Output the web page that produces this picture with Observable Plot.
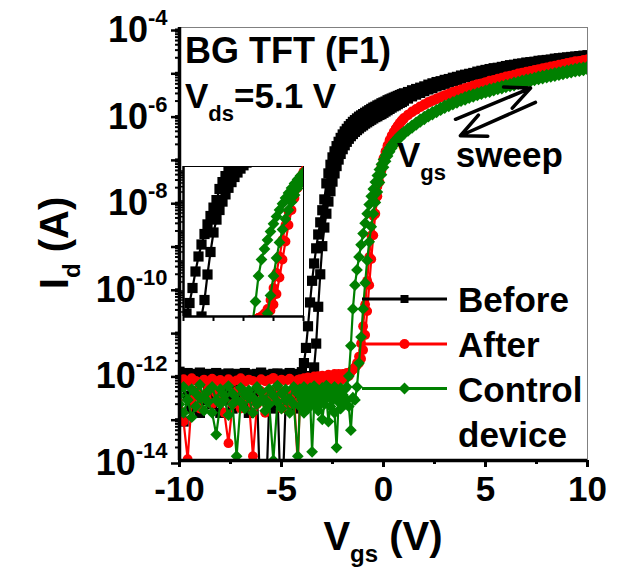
<!DOCTYPE html>
<html>
<head>
<meta charset="utf-8">
<script src="https://cdn.jsdelivr.net/npm/d3@7"></script>
<script src="https://cdn.jsdelivr.net/npm/@observablehq/plot@0.6"></script>
<style>
  html, body { margin: 0; padding: 0; background: #fff; }
  #chart { width: 622px; height: 569px; }
</style>
</head>
<body>
<div id="chart"></div>
<script>
// Gate voltage steps of the transfer sweep (V)
const vgs = [
  -10,-9.8,-9.6,-9.4,-9.2,-9,-8.8,-8.6,-8.4,-8.2,
  -8,-7.8,-7.6,-7.4,-7.2,-7,-6.8,-6.6,-6.4,-6.2,
  -6,-5.8,-5.6,-5.4,-5.2,-5,-4.8,-4.6,-4.4,-4.2,
  -4.1,-4,-3.9,-3.8,-3.7,-3.6,-3.5,-3.4,-3.3,-3.2,
  -3.1,-3,-2.9,-2.8,-2.7,-2.6,-2.5,-2.4,-2.3,-2.2,
  -2.1,-2,-1.9,-1.8,-1.7,-1.6,-1.5,-1.4,-1.3,-1.2,
  -1.1,-1,-0.9,-0.8,-0.7,-0.6,-0.5,-0.4,-0.3,-0.2,
  -0.1,0,0.1,0.2,0.3,0.4,0.5,0.6,0.7,0.8,
  0.9,1,1.2,1.4,1.6,1.8,2,2.2,2.4,2.6,
  2.8,3,3.2,3.4,3.6,3.8,4,4.2,4.4,4.6,
  4.8,5,5.2,5.4,5.6,5.8,6,6.2,6.4,6.6,
  6.8,7,7.2,7.4,7.6,7.8,8,8.2,8.4,8.6,
  8.8,9,9.2,9.4,9.6,9.8,10
];

// log10 of drain current (A) at each vgs step, two sweep directions per device
const beforeFwd = [
  -11.95,-12.02,-11.98,-12.04,-12.0,-11.97,-12.03,-12.0,-12.05,-11.98,
  -12.01,-12.04,-11.99,-12.02,-12.0,-12.06,-11.98,-12.01,-12.03,-12.0,
  -11.97,-12.02,-12.04,-12.0,-11.99,-12.03,-12.01,-11.98,-12.02,-12.0,
  -12.01,-11.96,-11.75,-11.4,-10.9,-10.35,-9.85,-9.45,-9.1,-8.78,
  -8.5,-8.22,-7.97,-7.6,-7.37,-7.17,-7.0,-6.86,-6.74,-6.64,
  -6.55,-6.47,-6.4,-6.34,-6.28,-6.23,-6.18,-6.14,-6.1,-6.06,
  -6.03,-6.0,-5.97,-5.94,-5.91,-5.88,-5.85,-5.83,-5.8,-5.78,
  -5.75,-5.73,-5.71,-5.68,-5.66,-5.64,-5.62,-5.6,-5.58,-5.56,
  -5.54,-5.52,-5.49,-5.45,-5.42,-5.39,-5.36,-5.32,-5.29,-5.26,
  -5.24,-5.21,-5.19,-5.16,-5.14,-5.11,-5.09,-5.07,-5.05,-5.02,
  -5.0,-4.98,-4.96,-4.94,-4.93,-4.91,-4.89,-4.87,-4.86,-4.84,
  -4.83,-4.81,-4.8,-4.79,-4.77,-4.76,-4.75,-4.74,-4.72,-4.71,
  -4.7,-4.69,-4.68,-4.67,-4.66,-4.65,-4.64
];
const beforeRev = [
  -12.3,-13.1,-12.5,-12.8,-12.4,-12.9,-12.6,-12.3,-12.7,-12.5,
  -12.9,-12.4,-12.6,-12.8,-12.3,-12.7,-12.5,-12.9,-12.6,-12.4,
  -15.5,-15.5,-12.6,-12.8,-12.4,-15.5,-12.7,-12.5,-12.8,-12.4,
  -12.6,-12.3,-12.5,-12.2,-12.4,-12.1,-12.05,-11.85,-11.3,-10.45,
  -9.7,-9.05,-8.62,-8.3,-8.02,-7.78,-7.56,-7.37,-7.2,-7.05,
  -6.92,-6.81,-6.72,-6.64,-6.57,-6.51,-6.46,-6.41,-6.37,-6.33,
  -6.29,-6.26,-6.22,-6.19,-6.16,-6.13,-6.1,-6.07,-6.05,-6.02,
  -6.0,-5.97,-5.94,-5.91,-5.88,-5.85,-5.82,-5.8,-5.77,-5.74,
  -5.72,-5.69,-5.64,-5.59,-5.55,-5.51,-5.47,-5.43,-5.4,-5.36,
  -5.33,-5.3,-5.27,-5.24,-5.21,-5.18,-5.15,-5.13,-5.1,-5.08,
  -5.06,-5.04,-5.02,-5.0,-4.98,-4.96,-4.95,-4.93,-4.91,-4.9,
  -4.88,-4.87,-4.85,-4.84,-4.82,-4.81,-4.8,-4.78,-4.77,-4.76,
  -4.75,-4.74,-4.73,-4.72,-4.71,-4.7,-4.69
];
const afterFwd = [
  -12.2,-12.12,-12.18,-12.1,-12.16,-12.2,-12.13,-12.19,-12.11,-12.17,
  -12.14,-12.21,-12.12,-12.18,-12.15,-12.1,-12.19,-12.13,-12.16,-12.2,
  -12.12,-12.17,-12.14,-12.09,-12.18,-12.13,-12.16,-12.11,-12.19,-12.14,
  -12.12,-12.17,-12.1,-12.15,-12.08,-12.13,-12.1,-12.06,-12.12,-12.05,
  -12.09,-12.04,-12.1,-12.06,-12.02,-12.08,-12.05,-12.0,-12.06,-12.03,
  -12.07,-12.0,-12.04,-11.98,-12.02,-11.95,-11.9,-11.85,-11.8,-11.75,
  -11.65,-11.45,-11.1,-10.55,-9.95,-9.35,-8.8,-8.3,-7.9,-7.57,
  -7.3,-7.08,-6.9,-6.75,-6.62,-6.51,-6.41,-6.33,-6.26,-6.2,
  -6.14,-6.09,-6.01,-5.94,-5.88,-5.82,-5.77,-5.72,-5.68,-5.64,
  -5.6,-5.56,-5.53,-5.49,-5.46,-5.43,-5.4,-5.37,-5.34,-5.31,
  -5.29,-5.26,-5.23,-5.21,-5.18,-5.16,-5.13,-5.11,-5.09,-5.06,
  -5.04,-5.02,-5.0,-4.98,-4.96,-4.94,-4.92,-4.9,-4.88,-4.86,
  -4.84,-4.82,-4.8,-4.78,-4.77,-4.75,-4.73
];
const afterRev = [
  -12.3,-13.1,-13.97,-12.6,-12.4,-12.8,-12.5,-12.35,-12.7,-12.45,
  -12.6,-12.9,-13.6,-12.7,-12.4,-12.8,-12.5,-12.6,-13.9,-12.7,
  -12.4,-12.9,-12.5,-12.6,-12.3,-12.8,-12.5,-12.7,-12.4,-14.1,
  -12.6,-12.4,-12.7,-12.3,-12.5,-12.2,-12.6,-12.3,-12.45,-12.2,
  -12.4,-12.15,-12.35,-12.1,-12.3,-12.2,-12.05,-12.25,-12.1,-12.0,
  -12.15,-12.05,-12.1,-11.98,-12.05,-11.95,-11.9,-11.85,-11.75,-11.6,
  -11.3,-10.9,-10.4,-9.85,-9.3,-8.8,-8.35,-7.98,-7.67,-7.42,
  -7.2,-7.02,-6.86,-6.72,-6.6,-6.5,-6.43,-6.35,-6.28,-6.22,
  -6.16,-6.11,-6.03,-5.96,-5.9,-5.84,-5.79,-5.74,-5.7,-5.66,
  -5.62,-5.58,-5.55,-5.51,-5.48,-5.45,-5.42,-5.39,-5.36,-5.33,
  -5.31,-5.28,-5.25,-5.23,-5.2,-5.18,-5.15,-5.13,-5.11,-5.08,
  -5.06,-5.04,-5.02,-5.0,-4.98,-4.96,-4.94,-4.92,-4.9,-4.88,
  -4.86,-4.84,-4.82,-4.8,-4.79,-4.77,-4.75
];
const controlFwd = [
  -12.5,-12.3,-12.6,-12.35,-12.45,-12.25,-12.55,-12.4,-12.3,-12.6,
  -12.35,-12.5,-12.28,-12.45,-12.6,-12.32,-12.48,-12.38,-12.55,-12.3,
  -12.42,-12.6,-12.35,-12.5,-12.27,-12.45,-12.36,-12.58,-12.3,-12.46,
  -12.35,-12.55,-12.3,-12.48,-12.62,-12.33,-12.45,-12.28,-12.5,-12.38,
  -12.6,-12.32,-12.44,-12.27,-12.52,-12.36,-12.46,-12.3,-12.55,-12.4,
  -12.33,-12.48,-12.36,-12.3,-12.05,-11.35,-10.5,-9.95,-9.6,-9.3,
  -9.02,-8.76,-8.52,-8.3,-8.09,-7.9,-7.73,-7.57,-7.42,-7.28,
  -7.16,-7.05,-6.95,-6.86,-6.78,-6.71,-6.65,-6.59,-6.54,-6.49,
  -6.45,-6.41,-6.33,-6.26,-6.19,-6.12,-6.06,-6.0,-5.95,-5.9,
  -5.85,-5.8,-5.76,-5.72,-5.68,-5.64,-5.6,-5.57,-5.54,-5.51,
  -5.48,-5.45,-5.42,-5.4,-5.37,-5.35,-5.32,-5.3,-5.27,-5.25,
  -5.22,-5.2,-5.18,-5.16,-5.13,-5.11,-5.09,-5.07,-5.05,-5.03,
  -5.01,-4.99,-4.97,-4.95,-4.93,-4.92,-4.9
];
const controlRev = [
  -12.7,-12.9,-12.6,-13.0,-12.75,-12.55,-12.85,-12.65,-12.9,-13.4,
  -12.7,-12.6,-12.95,-12.7,-13.9,-12.65,-12.8,-12.55,-12.9,-12.7,
  -12.6,-12.85,-12.7,-14.0,-12.65,-12.8,-12.6,-12.9,-12.7,-13.9,
  -12.75,-12.6,-12.9,-12.65,-12.8,-12.55,-13.8,-12.7,-12.6,-12.85,
  -12.65,-13.05,-12.7,-12.55,-13.1,-12.75,-12.6,-12.9,-13.7,-12.65,
  -12.8,-12.5,-12.7,-12.6,-12.75,-13.3,-12.55,-12.6,-12.3,-11.75,
  -11.15,-10.5,-9.9,-9.38,-8.95,-8.6,-8.3,-8.04,-7.8,-7.58,
  -7.4,-7.23,-7.09,-6.97,-6.87,-6.79,-6.72,-6.66,-6.6,-6.55,
  -6.5,-6.46,-6.39,-6.32,-6.25,-6.18,-6.12,-6.06,-6.01,-5.96,
  -5.91,-5.86,-5.82,-5.78,-5.74,-5.7,-5.67,-5.63,-5.6,-5.57,
  -5.54,-5.51,-5.49,-5.46,-5.43,-5.41,-5.38,-5.36,-5.34,-5.31,
  -5.29,-5.27,-5.25,-5.22,-5.2,-5.18,-5.16,-5.14,-5.12,-5.1,
  -5.08,-5.06,-5.04,-5.02,-5.01,-4.99,-4.97
];

// Axis ticks
const xMajor = [-10, -5, 0, 5, 10];
const xMinor = [-7.5, -2.5, 2.5, 7.5];
const yDecades = [1e-14, 1e-13, 1e-12, 1e-11, 1e-10, 1e-9, 1e-8, 1e-7, 1e-6, 1e-5, 1e-4];
const yLabelExponents = [-14, -12, -10, -8, -6, -4];

// Inset: zoom on the subthreshold region
const insetV = [-4, 0];
const insetLogI = [-11.85, -6.85];
const insetXTicks = [-4, -3, -2, -1, 0];
const insetYDecades = [1e-11, 1e-10, 1e-9, 1e-8, 1e-7];

// Sweep-direction arrows (V, log10 A)
const sweepArrows = [
  {v1: 3.53, l1: -6.12, v2: 7.21, l2: -5.40},
  {v1: 7.45, l1: -5.73, v2: 3.77, l2: -6.50}
];

const FONT = "'Liberation Sans', Arial, Helvetica, sans-serif";

// Marker shapes (square, diamond) sized like a circle of radius r
const squareSymbol = {draw(ctx, size) { const r = Math.sqrt(size / Math.PI); ctx.rect(-r, -r, 2 * r, 2 * r); }};
const diamondSymbol = {draw(ctx, size) {
  const r = Math.sqrt(size / Math.PI) * 1.2;
  ctx.moveTo(0, -r); ctx.lineTo(r, 0); ctx.lineTo(0, r); ctx.lineTo(-r, 0); ctx.closePath();
}};

const devices = [
  {name: "Before", label: ["Before"], color: "#000000", symbol: squareSymbol, r: 5.1, sweeps: [beforeFwd, beforeRev]},
  {name: "After", label: ["After"], color: "#ff0000", symbol: "circle", r: 4.9, sweeps: [afterFwd, afterRev]},
  {name: "Control device", label: ["Control", "device"], color: "#008000", symbol: diamondSymbol, r: 4.9, sweeps: [controlFwd, controlRev]}
];

const rows = [];
devices.forEach(dev => dev.sweeps.forEach((logI, s) => logI.forEach((l, i) => {
  rows.push({device: dev.name, sweep: dev.name + "-" + s, V: vgs[i], I: Math.pow(10, l)});
})));

function curveMarks() {
  return devices.flatMap(dev => {
    const data = rows.filter(d => d.device === dev.name);
    return [
      Plot.line(data, {x: "V", y: "I", z: "sweep", stroke: dev.color, strokeWidth: 2.2, clip: true}),
      Plot.dot(data, {x: "V", y: "I", symbol: dev.symbol, r: dev.r, fill: dev.color, stroke: "none", clip: true})
    ];
  });
}

function minorLogTicks(lo, hi) {
  return d3.scaleLog().domain([lo, hi]).ticks(30)
    .filter(d => Math.abs(Math.log10(d) - Math.round(Math.log10(d))) > 1e-6);
}

const main = Plot.plot({
  width: 622,
  height: 569,
  marginLeft: 179,
  marginRight: 35,
  marginTop: 27,
  marginBottom: 109,
  x: {domain: [-10, 10], label: null},
  y: {type: "log", domain: [1e-14, 1e-4], label: null},
  style: {fontFamily: FONT, fontWeight: "bold", color: "black", background: "white"},
  marks: [
    Plot.frame({stroke: "#808080", strokeWidth: 1}),
    ...curveMarks(),
    Plot.arrow(sweepArrows, {
      x1: "v1", y1: d => Math.pow(10, d.l1), x2: "v2", y2: d => Math.pow(10, d.l2),
      stroke: "black", strokeWidth: 3.5, headLength: 14, headAngle: 50
    }),
    Plot.ruleX([-10], {stroke: "black", strokeWidth: 3.5}),
    Plot.ruleY([1e-14], {stroke: "black", strokeWidth: 3.5}),
    Plot.axisX({ticks: xMajor, tickSize: 7, tickPadding: 9, strokeWidth: 3, fontSize: 35,
      tickFormat: d => String(d), label: null}),
    Plot.axisX({ticks: xMinor, tickSize: 4, strokeWidth: 3, tickFormat: () => "", label: null}),
    Plot.axisY({ticks: yDecades, tickSize: 8, tickPadding: 4, strokeWidth: 2.5, fontSize: 36, dy: 3,
      tickFormat: d => {
        const e = Math.round(Math.log10(d));
        return yLabelExponents.includes(e) ? "10^" + e : "";
      }, label: null}),
    Plot.axisY({ticks: minorLogTicks(1e-14, 1e-4), tickSize: 4, strokeWidth: 2, tickFormat: () => "", label: null})
  ]
});

const insetLo = Math.pow(10, insetLogI[0]);
const inset = Plot.plot({
  width: 132,
  height: 162,
  marginLeft: 10,
  marginRight: 2,
  marginTop: 2,
  marginBottom: 10,
  x: {domain: insetV, label: null},
  y: {type: "log", domain: insetLogI.map(l => Math.pow(10, l)), label: null},
  style: {background: "none", overflow: "visible"},
  marks: [
    Plot.frame({fill: "white", stroke: "black", strokeWidth: 1}),
    ...curveMarks(),
    Plot.ruleX([insetV[0]], {stroke: "black", strokeWidth: 2.5}),
    Plot.ruleY([insetLo], {stroke: "black", strokeWidth: 2.5}),
    Plot.axisX({ticks: insetXTicks, tickSize: 5, strokeWidth: 2, tickFormat: () => "", label: null}),
    Plot.axisY({ticks: insetYDecades, tickSize: 5, strokeWidth: 1.5, tickFormat: () => "", label: null}),
    Plot.axisY({ticks: minorLogTicks(1e-12, 1e-6).filter(d => d > insetLo && d < Math.pow(10, insetLogI[1])),
      tickSize: 3, strokeWidth: 1.5, tickFormat: () => "", label: null})
  ]
});

const svg = d3.select(main);

// Superscript exponents on the y tick labels
svg.selectAll('g[aria-label="y-axis tick label"] text').each(function() {
  const m = /^10\^(-?\d+)$/.exec(this.textContent);
  if (!m) return;
  const t = d3.select(this);
  t.text(null);
  t.append("tspan").text("10");
  t.append("tspan").attr("font-size", 22).attr("dy", -17).text(m[1]);
});

// Place the inset panel inside the main frame
const gi = svg.append("g").attr("transform", "translate(173,164)");
while (inset.firstChild) gi.node().appendChild(inset.firstChild);

const ann = svg.append("g")
  .attr("font-family", FONT).attr("font-weight", "bold").attr("fill", "black")
  .attr("text-anchor", "start");

// Device / bias annotation
ann.append("text").attr("x", 185).attr("y", 63).attr("font-size", 36).text("BG TFT (F1)");
const vds = ann.append("text").attr("x", 185).attr("y", 108).attr("font-size", 35);
vds.append("tspan").text("V");
vds.append("tspan").attr("font-size", 22).attr("dy", 13).text("ds");
vds.append("tspan").attr("dy", -13).text("=5.1 V");

const sweepText = ann.append("text").attr("x", 397).attr("y", 167).attr("font-size", 35);
sweepText.append("tspan").text("V");
sweepText.append("tspan").attr("font-size", 22).attr("dy", 13).text("gs");
sweepText.append("tspan").attr("dy", -13).text(" sweep");

// Axis titles
const xt = ann.append("text").attr("x", 383).attr("y", 550).attr("font-size", 40).attr("text-anchor", "middle");
xt.append("tspan").text("V");
xt.append("tspan").attr("font-size", 24).attr("dy", 12).text("gs");
xt.append("tspan").attr("dy", -12).text(" (V)");

const yt = ann.append("text").attr("transform", "translate(68,243) rotate(-90)")
  .attr("font-size", 40).attr("text-anchor", "middle");
yt.append("tspan").text("I");
yt.append("tspan").attr("font-size", 24).attr("dy", 12).text("d");
yt.append("tspan").attr("dy", -12).text(" (A)");

// Legend
const legendRows = [299, 344, 388.5];
devices.forEach((dev, i) => {
  const y = legendRows[i];
  const lg = ann.append("g");
  lg.append("line").attr("x1", 362).attr("x2", 447).attr("y1", y).attr("y2", y)
    .attr("stroke", dev.color).attr("stroke-width", 3);
  const sym = d3.symbol().type(typeof dev.symbol === "string" ? d3.symbolCircle : dev.symbol)
    .size(Math.PI * (i === 0 ? 4 : 5) * (i === 0 ? 4 : 5));
  lg.append("path").attr("d", sym()).attr("transform", `translate(404.5,${y})`).attr("fill", dev.color);
  dev.label.forEach((line, k) => {
    lg.append("text").attr("x", 458).attr("y", y + 13 + k * 45).attr("font-size", 35).text(line);
  });
});

document.getElementById("chart").appendChild(main);
</script>
</body>
</html>
